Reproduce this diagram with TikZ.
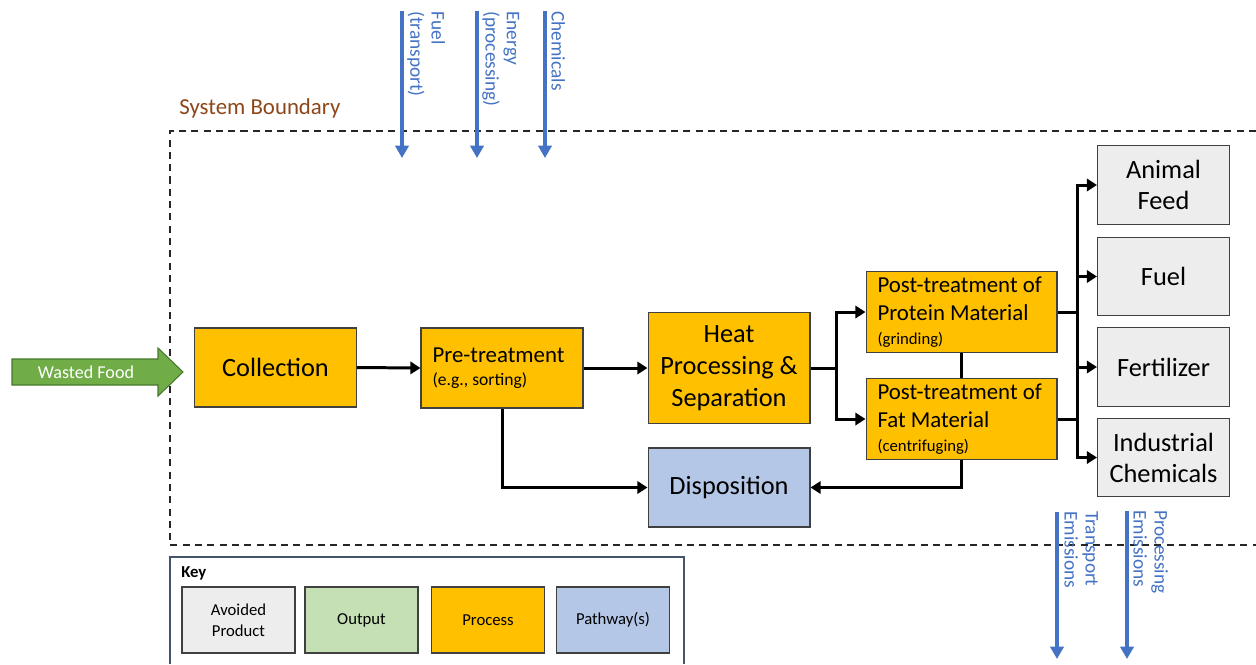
\documentclass[tikz,border=0pt]{standalone}
\usepackage{fontspec}
\setmainfont{Carlito}
\frenchspacing
\usetikzlibrary{arrows.meta}
\definecolor{procfill}{RGB}{255,192,0}
\definecolor{pathfill}{RGB}{180,199,231}
\definecolor{avoidfill}{RGB}{237,237,237}
\definecolor{outfill}{RGB}{197,224,180}
\definecolor{foodgreen}{RGB}{112,173,71}
\definecolor{foodedge}{RGB}{70,120,45}
\definecolor{flowblue}{RGB}{68,114,196}
\definecolor{boundbrown}{RGB}{140,70,25}
\definecolor{keyedge}{RGB}{68,84,106}
\begin{document}
\begin{tikzpicture}
 [
 x=0.02cm, y=-0.02cm,
 process/.style={rectangle, draw=black!75, fill=procfill, line width=0.6pt, minimum width=3.24cm, minimum height=1.6cm, font=\fontsize{15}{17.6}\selectfont},
 subprocess/.style={rectangle, draw=black!75, fill=procfill, line width=0.6pt, minimum height=1.6cm, inner xsep=0.23cm, align=flush left, font=\fontsize{13}{15.9}\selectfont},
 pathway/.style={rectangle, draw=black!75, fill=pathfill, line width=0.6pt, minimum width=3.24cm, minimum height=1.58cm, font=\fontsize{15}{17.6}\selectfont},
 avoided/.style={rectangle, draw=black!75, fill=avoidfill, line width=0.6pt, minimum width=2.64cm, minimum height=1.57cm, align=center, font=\fontsize{15}{17.6}\selectfont},
 keybox/.style={rectangle, draw=black!75, line width=0.6pt, minimum width=2.26cm, minimum height=1.32cm, align=center, font=\fontsize{9.5}{12}\selectfont},
 link/.style={line width=1.7pt},
 arrow/.style={line width=1.7pt, -{Triangle[length=5.8pt, width=7pt]}},
 flow/.style={draw=flowblue, line width=2.2pt, -{Triangle[length=7pt, width=7.5pt]}},
 flowtext/.style={text=flowblue, rotate=-90, anchor=south west, inner sep=0pt, align=left, font=\fontsize{11}{12}\selectfont},
 bound/.style={dashed, dash pattern=on 4pt off 3pt, line width=0.6pt, black!85}
 ]
 \useasboundingbox (0,0) rectangle (1256,664);
 % system boundary
 \draw[bound] (1256,131) -- (170,131) -- (170,545) -- (1256,545);
 \node at (179,108) [anchor=west, inner sep=0pt, text=boundbrown, font=\fontsize{13}{15}\selectfont] (sysb) {System Boundary};
 % wasted food input
 \draw[draw=foodedge, fill=foodgreen, line width=0.6pt] (12,359) -- (158,359) -- (158,348) -- (183,372) -- (158,396) -- (158,385) -- (12,385) -- cycle;
 \node at (86,372) [text=white, font=\fontsize{10.3}{12}\selectfont] (food) {Wasted Food};
 % process chain
 \node at (275.5,367.5) [process, minimum height=1.58cm] (coll) {Collection};
 \node at (502,368) [subprocess, text width=2.78cm] (pre) {Pre-treatment\\[-3pt]{\fontsize{10}{12}\selectfont (e.g., sorting)}};
 \node at (729,368) [process, minimum height=2.22cm, align=center, font=\fontsize{15}{18.4}\selectfont] (heat) {Heat\\Processing \&\\Separation};
 \node at (961.5,312) [subprocess, text width=3.36cm] (prot) {Post-treatment of\\Protein Material\\[-2.5pt]{\fontsize{9.5}{12}\selectfont (grinding)}};
 \node at (961.5,419) [subprocess, text width=3.36cm] (fat) {Post-treatment of\\Fat Material\\[-2.5pt]{\fontsize{9.5}{12}\selectfont (centrifuging)}};
 \node at (729,487.5) [pathway] (disp) {Disposition};
 % avoided products
 \node at (1163.5,185) [avoided] (feed) {Animal\\Feed};
 \node at (1163.5,276.5) [avoided] (fuel) {Fuel};
 \node at (1163.5,367) [avoided] (fert) {Fertilizer};
 \node at (1163.5,457.5) [avoided] (chem) {Industrial\\Chemicals};
 % connectors
 \draw[arrow] (coll.east) -- (pre.west);
 \draw[arrow] (pre.east) -- (heat.west);
 \draw[arrow] (heat.east) -- ++(26,0) |- (prot.west);
 \draw[arrow] (heat.east) -- ++(26,0) |- (fat.west);
 \draw[link] (prot.south) -- (fat.north);
 \draw[link] (prot.east) -- ++(20,0);
 \draw[arrow] (fat.east) -- ++(20,0) |- (feed.west);
 \draw[arrow] (fat.east) -- ++(20,0) |- (fuel.west);
 \draw[arrow] (fat.east) -- ++(20,0) |- (fert.west);
 \draw[arrow] (fat.east) -- ++(20,0) |- (chem.west);
 \draw[arrow] (pre.south) |- (disp.west);
 \draw[arrow] (fat.south) |- (disp.east);
 % inputs and emissions
 \coordinate (fuelin) at (402,11);
 \coordinate (fuelend) at (402,158);
 \coordinate (energyin) at (477,11);
 \coordinate (energyend) at (477,158);
 \coordinate (chemin) at (545,11);
 \coordinate (chemend) at (545,158);
 \coordinate (transout) at (1057,512);
 \coordinate (transend) at (1057,659);
 \coordinate (procout) at (1127,511);
 \coordinate (procend) at (1127,659);
 \draw[flow] (fuelin) -- (fuelend);
 \draw[flow] (energyin) -- (energyend);
 \draw[flow] (chemin) -- (chemend);
 \draw[flow] (transout) -- (transend);
 \draw[flow] (procout) -- (procend);
 \node at (407,11) [flowtext] (fueltxt) {Fuel\\(transport)};
 \node at (482,11) [flowtext] (energytxt) {Energy\\(processing)};
 \node at (551,11) [flowtext] (chemtxt) {Chemicals};
 \node at (1064,511) [flowtext] (transtxt) {Transport\\Emissions};
 \node at (1133,510) [flowtext] (proctxt) {Processing\\Emissions};
 % key
 \draw[keyedge, line width=0.8pt] (170,664) -- (170,557) -- (684,557) -- (684,664);
 \node at (181,573) [anchor=west, inner sep=0pt, font=\fontsize{9.5}{11}\selectfont\bfseries] (keytitle) {Key};
 \node at (238.5,620) [keybox, fill=avoidfill] (kavoid) {Avoided\\Product};
 \node at (361.5,620) [keybox, fill=outfill] (kout) {Output};
 \node at (488,620) [keybox, fill=procfill] (kproc) {Process};
 \node at (613,620) [keybox, fill=pathfill] (kpath) {Pathway(s)};
\end{tikzpicture}
\end{document}
